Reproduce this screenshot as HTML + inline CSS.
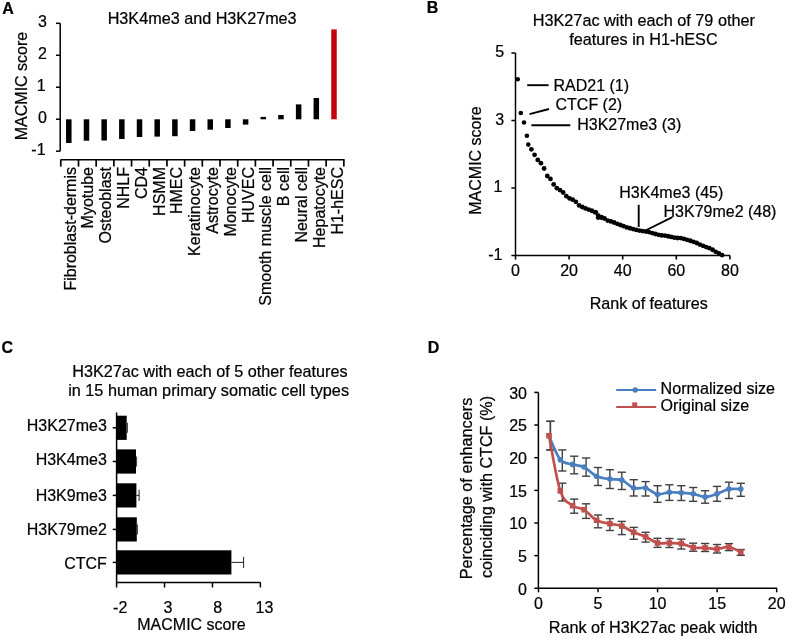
<!DOCTYPE html>
<html><head><meta charset="utf-8"><style>
html,body{margin:0;padding:0;background:#fff;}
svg{display:block;will-change:transform;}
text{font-family:"Liberation Sans",sans-serif;stroke:#000;stroke-width:0.22px;}
</style></head><body>
<svg width="787" height="639" viewBox="0 0 787 639">
<rect width="787" height="639" fill="#fff"/>
<text x="2.30" y="13.50" text-anchor="start" font-size="16" font-weight="bold" fill="#000">A</text>
<text x="202.15" y="23.60" text-anchor="middle" font-size="16.2" font-weight="normal" fill="#000">H3K4me3 and H3K27me3</text>
<line x1="60.20" y1="23.30" x2="60.20" y2="151.20" stroke="#000" stroke-width="1.5"/>
<line x1="56.00" y1="23.30" x2="60.20" y2="23.30" stroke="#000" stroke-width="1.5"/>
<text x="47.00" y="27.00" text-anchor="end" font-size="16" font-weight="normal" fill="#000">3</text>
<line x1="56.00" y1="55.27" x2="60.20" y2="55.27" stroke="#000" stroke-width="1.5"/>
<text x="47.00" y="58.97" text-anchor="end" font-size="16" font-weight="normal" fill="#000">2</text>
<line x1="56.00" y1="87.24" x2="60.20" y2="87.24" stroke="#000" stroke-width="1.5"/>
<text x="45.60" y="90.94" text-anchor="end" font-size="16" font-weight="normal" fill="#000">1</text>
<line x1="56.00" y1="119.21" x2="60.20" y2="119.21" stroke="#000" stroke-width="1.5"/>
<text x="47.00" y="122.91" text-anchor="end" font-size="16" font-weight="normal" fill="#000">0</text>
<line x1="56.00" y1="151.18" x2="60.20" y2="151.18" stroke="#000" stroke-width="1.5"/>
<text x="45.60" y="154.88" text-anchor="end" font-size="16" font-weight="normal" fill="#000">-1</text>
<text x="27.00" y="86.00" text-anchor="middle" font-size="16" font-weight="normal" fill="#000" transform="rotate(-90 27.00 86.00)">MACMIC score</text>
<line x1="60.40" y1="159.80" x2="344.60" y2="159.80" stroke="#000" stroke-width="1.5"/>
<line x1="60.80" y1="159.80" x2="60.80" y2="166.60" stroke="#000" stroke-width="1.7"/>
<line x1="78.49" y1="159.80" x2="78.49" y2="166.60" stroke="#000" stroke-width="1.7"/>
<line x1="96.18" y1="159.80" x2="96.18" y2="166.60" stroke="#000" stroke-width="1.7"/>
<line x1="113.87" y1="159.80" x2="113.87" y2="166.60" stroke="#000" stroke-width="1.7"/>
<line x1="131.56" y1="159.80" x2="131.56" y2="166.60" stroke="#000" stroke-width="1.7"/>
<line x1="149.25" y1="159.80" x2="149.25" y2="166.60" stroke="#000" stroke-width="1.7"/>
<line x1="166.94" y1="159.80" x2="166.94" y2="166.60" stroke="#000" stroke-width="1.7"/>
<line x1="184.63" y1="159.80" x2="184.63" y2="166.60" stroke="#000" stroke-width="1.7"/>
<line x1="202.32" y1="159.80" x2="202.32" y2="166.60" stroke="#000" stroke-width="1.7"/>
<line x1="220.01" y1="159.80" x2="220.01" y2="166.60" stroke="#000" stroke-width="1.7"/>
<line x1="237.70" y1="159.80" x2="237.70" y2="166.60" stroke="#000" stroke-width="1.7"/>
<line x1="255.39" y1="159.80" x2="255.39" y2="166.60" stroke="#000" stroke-width="1.7"/>
<line x1="273.08" y1="159.80" x2="273.08" y2="166.60" stroke="#000" stroke-width="1.7"/>
<line x1="290.77" y1="159.80" x2="290.77" y2="166.60" stroke="#000" stroke-width="1.7"/>
<line x1="308.46" y1="159.80" x2="308.46" y2="166.60" stroke="#000" stroke-width="1.7"/>
<line x1="326.15" y1="159.80" x2="326.15" y2="166.60" stroke="#000" stroke-width="1.7"/>
<line x1="343.84" y1="159.80" x2="343.84" y2="166.60" stroke="#000" stroke-width="1.7"/>
<rect x="66.05" y="119.30" width="5.50" height="23.70" fill="#000"/>
<text x="75.50" y="167.00" text-anchor="end" font-size="16" font-weight="normal" fill="#000" transform="rotate(-90 75.50 167.00)">Fibroblast-dermis</text>
<rect x="83.73" y="119.30" width="5.50" height="21.40" fill="#000"/>
<text x="93.30" y="167.00" text-anchor="end" font-size="16" font-weight="normal" fill="#000" transform="rotate(-90 93.30 167.00)">Myotube</text>
<rect x="101.41" y="119.30" width="5.50" height="21.20" fill="#000"/>
<text x="111.10" y="167.00" text-anchor="end" font-size="16" font-weight="normal" fill="#000" transform="rotate(-90 111.10 167.00)">Osteoblast</text>
<rect x="119.09" y="119.30" width="5.50" height="19.70" fill="#000"/>
<text x="128.90" y="167.00" text-anchor="end" font-size="16" font-weight="normal" fill="#000" transform="rotate(-90 128.90 167.00)">NHLF</text>
<rect x="136.77" y="119.30" width="5.50" height="17.70" fill="#000"/>
<text x="146.70" y="167.00" text-anchor="end" font-size="16" font-weight="normal" fill="#000" transform="rotate(-90 146.70 167.00)">CD4</text>
<rect x="154.45" y="119.30" width="5.50" height="17.30" fill="#000"/>
<text x="164.50" y="167.00" text-anchor="end" font-size="16" font-weight="normal" fill="#000" transform="rotate(-90 164.50 167.00)">HSMM</text>
<rect x="172.13" y="119.30" width="5.50" height="16.90" fill="#000"/>
<text x="182.30" y="167.00" text-anchor="end" font-size="16" font-weight="normal" fill="#000" transform="rotate(-90 182.30 167.00)">HMEC</text>
<rect x="189.81" y="119.30" width="5.50" height="11.70" fill="#000"/>
<text x="200.10" y="167.00" text-anchor="end" font-size="16" font-weight="normal" fill="#000" transform="rotate(-90 200.10 167.00)">Keratinocyte</text>
<rect x="207.49" y="119.30" width="5.50" height="10.40" fill="#000"/>
<text x="217.90" y="167.00" text-anchor="end" font-size="16" font-weight="normal" fill="#000" transform="rotate(-90 217.90 167.00)">Astrocyte</text>
<rect x="225.17" y="119.30" width="5.50" height="8.70" fill="#000"/>
<text x="235.70" y="167.00" text-anchor="end" font-size="16" font-weight="normal" fill="#000" transform="rotate(-90 235.70 167.00)">Monocyte</text>
<rect x="242.85" y="119.30" width="5.50" height="5.30" fill="#000"/>
<text x="253.50" y="167.00" text-anchor="end" font-size="16" font-weight="normal" fill="#000" transform="rotate(-90 253.50 167.00)">HUVEC</text>
<rect x="260.53" y="116.90" width="5.50" height="2.40" fill="#000"/>
<text x="271.30" y="167.00" text-anchor="end" font-size="16" font-weight="normal" fill="#000" transform="rotate(-90 271.30 167.00)">Smooth muscle cell</text>
<rect x="278.21" y="115.00" width="5.50" height="4.30" fill="#000"/>
<text x="289.10" y="167.00" text-anchor="end" font-size="16" font-weight="normal" fill="#000" transform="rotate(-90 289.10 167.00)">B cell</text>
<rect x="295.89" y="104.40" width="5.50" height="14.90" fill="#000"/>
<text x="306.90" y="167.00" text-anchor="end" font-size="16" font-weight="normal" fill="#000" transform="rotate(-90 306.90 167.00)">Neural cell</text>
<rect x="313.57" y="98.00" width="5.50" height="21.30" fill="#000"/>
<text x="324.70" y="167.00" text-anchor="end" font-size="16" font-weight="normal" fill="#000" transform="rotate(-90 324.70 167.00)">Hepatocyte</text>
<rect x="331.25" y="29.40" width="5.50" height="89.90" fill="#c4000c"/>
<text x="342.50" y="167.00" text-anchor="end" font-size="16" font-weight="normal" fill="#000" transform="rotate(-90 342.50 167.00)">H1-hESC</text>
<text x="426.80" y="12.50" text-anchor="start" font-size="16" font-weight="bold" fill="#000">B</text>
<text x="643.85" y="26.20" text-anchor="middle" font-size="16.25" font-weight="normal" fill="#000">H3K27ac with each of 79 other</text>
<text x="643.40" y="45.30" text-anchor="middle" font-size="16.2" font-weight="normal" fill="#000">features in H1-hESC</text>
<line x1="515.50" y1="53.00" x2="515.50" y2="255.50" stroke="#000" stroke-width="1.5"/>
<line x1="511.40" y1="53.00" x2="515.50" y2="53.00" stroke="#000" stroke-width="1.5"/>
<text x="504.20" y="57.00" text-anchor="end" font-size="16" font-weight="normal" fill="#000">5</text>
<line x1="511.40" y1="120.50" x2="515.50" y2="120.50" stroke="#000" stroke-width="1.5"/>
<text x="504.20" y="124.50" text-anchor="end" font-size="16" font-weight="normal" fill="#000">3</text>
<line x1="511.40" y1="188.00" x2="515.50" y2="188.00" stroke="#000" stroke-width="1.5"/>
<text x="502.50" y="192.00" text-anchor="end" font-size="16" font-weight="normal" fill="#000">1</text>
<line x1="511.40" y1="255.50" x2="515.50" y2="255.50" stroke="#000" stroke-width="1.5"/>
<text x="502.50" y="259.50" text-anchor="end" font-size="16" font-weight="normal" fill="#000">-1</text>
<text x="481.30" y="160.50" text-anchor="middle" font-size="16" font-weight="normal" fill="#000" transform="rotate(-90 481.30 160.50)">MACMIC score</text>
<line x1="515.50" y1="255.50" x2="730.00" y2="255.50" stroke="#000" stroke-width="1.5"/>
<line x1="515.50" y1="255.50" x2="515.50" y2="259.50" stroke="#000" stroke-width="1.6"/>
<text x="515.50" y="276.00" text-anchor="middle" font-size="16" font-weight="normal" fill="#000">0</text>
<line x1="569.10" y1="255.50" x2="569.10" y2="259.50" stroke="#000" stroke-width="1.6"/>
<text x="569.10" y="276.00" text-anchor="middle" font-size="16" font-weight="normal" fill="#000">20</text>
<line x1="622.70" y1="255.50" x2="622.70" y2="259.50" stroke="#000" stroke-width="1.6"/>
<text x="622.70" y="276.00" text-anchor="middle" font-size="16" font-weight="normal" fill="#000">40</text>
<line x1="676.30" y1="255.50" x2="676.30" y2="259.50" stroke="#000" stroke-width="1.6"/>
<text x="676.30" y="276.00" text-anchor="middle" font-size="16" font-weight="normal" fill="#000">60</text>
<line x1="729.90" y1="255.50" x2="729.90" y2="259.50" stroke="#000" stroke-width="1.6"/>
<text x="729.90" y="276.00" text-anchor="middle" font-size="16" font-weight="normal" fill="#000">80</text>
<text x="648.70" y="309.00" text-anchor="middle" font-size="16.1" font-weight="normal" fill="#000">Rank of features</text>
<circle cx="517.70" cy="79.30" r="2.30" fill="#000"/>
<circle cx="520.80" cy="113.00" r="2.30" fill="#000"/>
<circle cx="524.00" cy="122.50" r="2.30" fill="#000"/>
<circle cx="526.90" cy="135.80" r="2.30" fill="#000"/>
<circle cx="528.30" cy="144.60" r="2.30" fill="#000"/>
<circle cx="531.40" cy="149.30" r="2.40" fill="#000"/>
<circle cx="534.58" cy="154.86" r="2.40" fill="#000"/>
<circle cx="537.76" cy="159.96" r="2.40" fill="#000"/>
<circle cx="540.93" cy="163.13" r="2.40" fill="#000"/>
<circle cx="544.11" cy="168.50" r="2.40" fill="#000"/>
<circle cx="547.29" cy="175.98" r="2.40" fill="#000"/>
<circle cx="550.47" cy="178.97" r="2.40" fill="#000"/>
<circle cx="553.65" cy="184.40" r="2.40" fill="#000"/>
<circle cx="556.83" cy="188.13" r="2.40" fill="#000"/>
<circle cx="560.00" cy="190.08" r="2.40" fill="#000"/>
<circle cx="563.18" cy="192.52" r="2.40" fill="#000"/>
<circle cx="566.36" cy="196.21" r="2.40" fill="#000"/>
<circle cx="569.54" cy="198.41" r="2.40" fill="#000"/>
<circle cx="572.72" cy="199.69" r="2.40" fill="#000"/>
<circle cx="575.90" cy="201.81" r="2.40" fill="#000"/>
<circle cx="579.08" cy="205.44" r="2.40" fill="#000"/>
<circle cx="582.25" cy="206.98" r="2.40" fill="#000"/>
<circle cx="585.43" cy="208.43" r="2.40" fill="#000"/>
<circle cx="588.61" cy="209.60" r="2.40" fill="#000"/>
<circle cx="591.79" cy="210.74" r="2.40" fill="#000"/>
<circle cx="594.97" cy="212.20" r="2.40" fill="#000"/>
<circle cx="598.14" cy="217.50" r="2.40" fill="#000"/>
<circle cx="601.32" cy="217.50" r="2.40" fill="#000"/>
<circle cx="604.50" cy="218.49" r="2.40" fill="#000"/>
<circle cx="607.68" cy="220.57" r="2.40" fill="#000"/>
<circle cx="610.86" cy="221.38" r="2.40" fill="#000"/>
<circle cx="614.04" cy="222.50" r="2.40" fill="#000"/>
<circle cx="617.22" cy="223.81" r="2.40" fill="#000"/>
<circle cx="620.39" cy="224.99" r="2.40" fill="#000"/>
<circle cx="623.57" cy="226.18" r="2.40" fill="#000"/>
<circle cx="626.75" cy="227.39" r="2.40" fill="#000"/>
<circle cx="629.93" cy="228.27" r="2.40" fill="#000"/>
<circle cx="633.11" cy="229.08" r="2.40" fill="#000"/>
<circle cx="636.28" cy="229.89" r="2.40" fill="#000"/>
<circle cx="639.46" cy="230.55" r="2.40" fill="#000"/>
<circle cx="642.64" cy="231.11" r="2.40" fill="#000"/>
<circle cx="645.82" cy="231.60" r="2.40" fill="#000"/>
<circle cx="649.00" cy="232.10" r="2.40" fill="#000"/>
<circle cx="652.18" cy="233.06" r="2.40" fill="#000"/>
<circle cx="655.36" cy="234.01" r="2.40" fill="#000"/>
<circle cx="658.53" cy="234.84" r="2.40" fill="#000"/>
<circle cx="661.71" cy="235.38" r="2.40" fill="#000"/>
<circle cx="664.89" cy="235.57" r="2.40" fill="#000"/>
<circle cx="668.07" cy="236.23" r="2.40" fill="#000"/>
<circle cx="671.25" cy="236.96" r="2.40" fill="#000"/>
<circle cx="674.42" cy="237.65" r="2.40" fill="#000"/>
<circle cx="677.60" cy="237.98" r="2.40" fill="#000"/>
<circle cx="680.78" cy="238.12" r="2.40" fill="#000"/>
<circle cx="683.96" cy="238.95" r="2.40" fill="#000"/>
<circle cx="687.14" cy="239.82" r="2.40" fill="#000"/>
<circle cx="690.32" cy="240.76" r="2.40" fill="#000"/>
<circle cx="693.50" cy="241.80" r="2.40" fill="#000"/>
<circle cx="696.67" cy="242.98" r="2.40" fill="#000"/>
<circle cx="699.85" cy="244.54" r="2.40" fill="#000"/>
<circle cx="703.03" cy="245.86" r="2.40" fill="#000"/>
<circle cx="706.21" cy="247.04" r="2.40" fill="#000"/>
<circle cx="709.39" cy="248.22" r="2.40" fill="#000"/>
<circle cx="712.57" cy="249.77" r="2.40" fill="#000"/>
<circle cx="715.74" cy="251.81" r="2.40" fill="#000"/>
<circle cx="718.92" cy="253.48" r="2.40" fill="#000"/>
<circle cx="722.10" cy="255.10" r="2.40" fill="#000"/>
<circle cx="595.90" cy="212.30" r="2.40" fill="#000"/>
<circle cx="598.30" cy="215.60" r="2.40" fill="#000"/>
<circle cx="601.50" cy="217.20" r="2.40" fill="#000"/>
<line x1="527.20" y1="85.20" x2="548.60" y2="85.20" stroke="#000" stroke-width="1.9"/>
<text x="553.50" y="90.60" text-anchor="start" font-size="16" font-weight="normal" fill="#000">RAD21 (1)</text>
<line x1="529.50" y1="114.20" x2="549.00" y2="109.00" stroke="#000" stroke-width="1.9"/>
<text x="555.50" y="110.30" text-anchor="start" font-size="16" font-weight="normal" fill="#000">CTCF (2)</text>
<line x1="531.40" y1="125.30" x2="570.30" y2="125.30" stroke="#000" stroke-width="1.9"/>
<text x="577.20" y="129.90" text-anchor="start" font-size="16" font-weight="normal" fill="#000">H3K27me3 (3)</text>
<line x1="638.70" y1="204.80" x2="638.70" y2="227.00" stroke="#000" stroke-width="1.9"/>
<text x="619.30" y="198.20" text-anchor="start" font-size="16" font-weight="normal" fill="#000">H3K4me3 (45)</text>
<line x1="645.50" y1="230.50" x2="672.40" y2="217.20" stroke="#000" stroke-width="1.9"/>
<text x="663.50" y="217.10" text-anchor="start" font-size="16" font-weight="normal" fill="#000">H3K79me2 (48)</text>
<text x="1.60" y="353.00" text-anchor="start" font-size="16" font-weight="bold" fill="#000">C</text>
<text x="209.90" y="376.60" text-anchor="middle" font-size="16.22" font-weight="normal" fill="#000">H3K27ac with each of 5 other features</text>
<text x="208.60" y="395.70" text-anchor="middle" font-size="16.25" font-weight="normal" fill="#000">in 15 human primary somatic cell types</text>
<line x1="116.60" y1="412.50" x2="116.60" y2="582.40" stroke="#000" stroke-width="1.5"/>
<rect x="116.60" y="415.70" width="10.10" height="24.20" fill="#000"/>
<line x1="112.70" y1="427.80" x2="116.60" y2="427.80" stroke="#000" stroke-width="1.5"/>
<text x="106.80" y="430.90" text-anchor="end" font-size="16" font-weight="normal" fill="#000">H3K27me3</text>
<line x1="127.40" y1="422.80" x2="127.40" y2="432.80" stroke="#333" stroke-width="1.0"/>
<rect x="116.60" y="449.40" width="19.40" height="24.20" fill="#000"/>
<line x1="112.70" y1="461.50" x2="116.60" y2="461.50" stroke="#000" stroke-width="1.5"/>
<text x="106.80" y="465.30" text-anchor="end" font-size="16" font-weight="normal" fill="#000">H3K4me3</text>
<line x1="136.60" y1="456.50" x2="136.60" y2="466.50" stroke="#333" stroke-width="1.0"/>
<rect x="116.60" y="483.30" width="19.80" height="24.20" fill="#000"/>
<line x1="112.70" y1="495.40" x2="116.60" y2="495.40" stroke="#000" stroke-width="1.5"/>
<text x="106.80" y="500.90" text-anchor="end" font-size="16" font-weight="normal" fill="#000">H3K9me3</text>
<line x1="136.40" y1="495.40" x2="139.10" y2="495.40" stroke="#222" stroke-width="1.0"/>
<line x1="139.10" y1="489.80" x2="139.10" y2="501.00" stroke="#222" stroke-width="1.0"/>
<rect x="116.60" y="517.30" width="20.20" height="24.20" fill="#000"/>
<line x1="112.70" y1="529.40" x2="116.60" y2="529.40" stroke="#000" stroke-width="1.5"/>
<text x="106.80" y="534.80" text-anchor="end" font-size="16" font-weight="normal" fill="#000">H3K79me2</text>
<line x1="137.40" y1="524.40" x2="137.40" y2="534.40" stroke="#333" stroke-width="1.0"/>
<rect x="116.60" y="550.30" width="114.80" height="24.20" fill="#000"/>
<line x1="112.70" y1="562.40" x2="116.60" y2="562.40" stroke="#000" stroke-width="1.5"/>
<text x="106.80" y="568.90" text-anchor="end" font-size="16" font-weight="normal" fill="#000">CTCF</text>
<line x1="231.40" y1="562.40" x2="243.60" y2="562.40" stroke="#222" stroke-width="1.0"/>
<line x1="243.60" y1="556.80" x2="243.60" y2="568.00" stroke="#222" stroke-width="1.0"/>
<line x1="116.60" y1="582.40" x2="260.40" y2="582.40" stroke="#000" stroke-width="1.5"/>
<line x1="116.60" y1="582.40" x2="116.60" y2="587.50" stroke="#000" stroke-width="1.5"/>
<text x="120.20" y="613.20" text-anchor="middle" font-size="16" font-weight="normal" fill="#000">-2</text>
<line x1="164.53" y1="582.40" x2="164.53" y2="587.50" stroke="#000" stroke-width="1.5"/>
<text x="167.93" y="613.20" text-anchor="middle" font-size="16" font-weight="normal" fill="#000">3</text>
<line x1="212.46" y1="582.40" x2="212.46" y2="587.50" stroke="#000" stroke-width="1.5"/>
<text x="217.66" y="613.20" text-anchor="middle" font-size="16" font-weight="normal" fill="#000">8</text>
<line x1="260.39" y1="582.40" x2="260.39" y2="587.50" stroke="#000" stroke-width="1.5"/>
<text x="264.39" y="613.20" text-anchor="middle" font-size="16" font-weight="normal" fill="#000">13</text>
<text x="191.50" y="630.30" text-anchor="middle" font-size="16" font-weight="normal" fill="#000">MACMIC score</text>
<text x="427.80" y="353.20" text-anchor="start" font-size="16" font-weight="bold" fill="#000">D</text>
<line x1="538.40" y1="392.40" x2="538.40" y2="588.30" stroke="#000" stroke-width="1.5"/>
<line x1="534.30" y1="588.30" x2="538.40" y2="588.30" stroke="#000" stroke-width="1.5"/>
<text x="527.00" y="594.60" text-anchor="end" font-size="16" font-weight="normal" fill="#000">0</text>
<line x1="534.30" y1="555.65" x2="538.40" y2="555.65" stroke="#000" stroke-width="1.5"/>
<text x="527.00" y="561.95" text-anchor="end" font-size="16" font-weight="normal" fill="#000">5</text>
<line x1="534.30" y1="523.00" x2="538.40" y2="523.00" stroke="#000" stroke-width="1.5"/>
<text x="527.00" y="529.30" text-anchor="end" font-size="16" font-weight="normal" fill="#000">10</text>
<line x1="534.30" y1="490.35" x2="538.40" y2="490.35" stroke="#000" stroke-width="1.5"/>
<text x="527.00" y="496.65" text-anchor="end" font-size="16" font-weight="normal" fill="#000">15</text>
<line x1="534.30" y1="457.70" x2="538.40" y2="457.70" stroke="#000" stroke-width="1.5"/>
<text x="527.00" y="464.00" text-anchor="end" font-size="16" font-weight="normal" fill="#000">20</text>
<line x1="534.30" y1="425.05" x2="538.40" y2="425.05" stroke="#000" stroke-width="1.5"/>
<text x="527.00" y="431.35" text-anchor="end" font-size="16" font-weight="normal" fill="#000">25</text>
<line x1="534.30" y1="392.40" x2="538.40" y2="392.40" stroke="#000" stroke-width="1.5"/>
<text x="527.00" y="398.70" text-anchor="end" font-size="16" font-weight="normal" fill="#000">30</text>
<text x="472.00" y="488.50" text-anchor="middle" font-size="16.25" font-weight="normal" fill="#000" transform="rotate(-90 472.00 488.50)">Percentage of enhancers</text>
<text x="491.60" y="487.00" text-anchor="middle" font-size="16.15" font-weight="normal" fill="#000" transform="rotate(-90 491.60 487.00)">coinciding with CTCF (%)</text>
<line x1="538.40" y1="588.30" x2="777.00" y2="588.30" stroke="#000" stroke-width="1.5"/>
<line x1="538.50" y1="588.30" x2="538.50" y2="592.30" stroke="#000" stroke-width="1.5"/>
<text x="538.50" y="608.80" text-anchor="middle" font-size="16" font-weight="normal" fill="#000">0</text>
<line x1="598.05" y1="588.30" x2="598.05" y2="592.30" stroke="#000" stroke-width="1.5"/>
<text x="598.05" y="608.80" text-anchor="middle" font-size="16" font-weight="normal" fill="#000">5</text>
<line x1="657.60" y1="588.30" x2="657.60" y2="592.30" stroke="#000" stroke-width="1.5"/>
<text x="657.60" y="608.80" text-anchor="middle" font-size="16" font-weight="normal" fill="#000">10</text>
<line x1="717.15" y1="588.30" x2="717.15" y2="592.30" stroke="#000" stroke-width="1.5"/>
<text x="717.15" y="608.80" text-anchor="middle" font-size="16" font-weight="normal" fill="#000">15</text>
<line x1="776.70" y1="588.30" x2="776.70" y2="592.30" stroke="#000" stroke-width="1.5"/>
<text x="776.70" y="608.80" text-anchor="middle" font-size="16" font-weight="normal" fill="#000">20</text>
<text x="653.20" y="632.60" text-anchor="middle" font-size="16.2" font-weight="normal" fill="#000">Rank of H3K27ac peak width</text>
<line x1="550.40" y1="421.30" x2="550.40" y2="449.90" stroke="#404040" stroke-width="1.4"/>
<line x1="546.30" y1="421.30" x2="554.50" y2="421.30" stroke="#404040" stroke-width="1.4"/>
<line x1="546.30" y1="449.90" x2="554.50" y2="449.90" stroke="#404040" stroke-width="1.4"/>
<line x1="562.30" y1="449.90" x2="562.30" y2="471.00" stroke="#404040" stroke-width="1.4"/>
<line x1="558.20" y1="449.90" x2="566.40" y2="449.90" stroke="#404040" stroke-width="1.4"/>
<line x1="558.20" y1="471.00" x2="566.40" y2="471.00" stroke="#404040" stroke-width="1.4"/>
<line x1="574.20" y1="456.20" x2="574.20" y2="473.80" stroke="#404040" stroke-width="1.4"/>
<line x1="570.10" y1="456.20" x2="578.30" y2="456.20" stroke="#404040" stroke-width="1.4"/>
<line x1="570.10" y1="473.80" x2="578.30" y2="473.80" stroke="#404040" stroke-width="1.4"/>
<line x1="586.10" y1="458.00" x2="586.10" y2="476.20" stroke="#404040" stroke-width="1.4"/>
<line x1="582.00" y1="458.00" x2="590.20" y2="458.00" stroke="#404040" stroke-width="1.4"/>
<line x1="582.00" y1="476.20" x2="590.20" y2="476.20" stroke="#404040" stroke-width="1.4"/>
<line x1="598.00" y1="467.50" x2="598.00" y2="485.50" stroke="#404040" stroke-width="1.4"/>
<line x1="593.90" y1="467.50" x2="602.10" y2="467.50" stroke="#404040" stroke-width="1.4"/>
<line x1="593.90" y1="485.50" x2="602.10" y2="485.50" stroke="#404040" stroke-width="1.4"/>
<line x1="609.90" y1="469.70" x2="609.90" y2="488.50" stroke="#404040" stroke-width="1.4"/>
<line x1="605.80" y1="469.70" x2="614.00" y2="469.70" stroke="#404040" stroke-width="1.4"/>
<line x1="605.80" y1="488.50" x2="614.00" y2="488.50" stroke="#404040" stroke-width="1.4"/>
<line x1="621.80" y1="472.20" x2="621.80" y2="489.50" stroke="#404040" stroke-width="1.4"/>
<line x1="617.70" y1="472.20" x2="625.90" y2="472.20" stroke="#404040" stroke-width="1.4"/>
<line x1="617.70" y1="489.50" x2="625.90" y2="489.50" stroke="#404040" stroke-width="1.4"/>
<line x1="633.70" y1="479.70" x2="633.70" y2="496.00" stroke="#404040" stroke-width="1.4"/>
<line x1="629.60" y1="479.70" x2="637.80" y2="479.70" stroke="#404040" stroke-width="1.4"/>
<line x1="629.60" y1="496.00" x2="637.80" y2="496.00" stroke="#404040" stroke-width="1.4"/>
<line x1="645.60" y1="481.60" x2="645.60" y2="496.00" stroke="#404040" stroke-width="1.4"/>
<line x1="641.50" y1="481.60" x2="649.70" y2="481.60" stroke="#404040" stroke-width="1.4"/>
<line x1="641.50" y1="496.00" x2="649.70" y2="496.00" stroke="#404040" stroke-width="1.4"/>
<line x1="657.50" y1="485.70" x2="657.50" y2="502.30" stroke="#404040" stroke-width="1.4"/>
<line x1="653.40" y1="485.70" x2="661.60" y2="485.70" stroke="#404040" stroke-width="1.4"/>
<line x1="653.40" y1="502.30" x2="661.60" y2="502.30" stroke="#404040" stroke-width="1.4"/>
<line x1="669.40" y1="484.80" x2="669.40" y2="500.40" stroke="#404040" stroke-width="1.4"/>
<line x1="665.30" y1="484.80" x2="673.50" y2="484.80" stroke="#404040" stroke-width="1.4"/>
<line x1="665.30" y1="500.40" x2="673.50" y2="500.40" stroke="#404040" stroke-width="1.4"/>
<line x1="681.30" y1="485.70" x2="681.30" y2="500.50" stroke="#404040" stroke-width="1.4"/>
<line x1="677.20" y1="485.70" x2="685.40" y2="485.70" stroke="#404040" stroke-width="1.4"/>
<line x1="677.20" y1="500.50" x2="685.40" y2="500.50" stroke="#404040" stroke-width="1.4"/>
<line x1="693.20" y1="487.50" x2="693.20" y2="501.30" stroke="#404040" stroke-width="1.4"/>
<line x1="689.10" y1="487.50" x2="697.30" y2="487.50" stroke="#404040" stroke-width="1.4"/>
<line x1="689.10" y1="501.30" x2="697.30" y2="501.30" stroke="#404040" stroke-width="1.4"/>
<line x1="705.10" y1="490.70" x2="705.10" y2="503.20" stroke="#404040" stroke-width="1.4"/>
<line x1="701.00" y1="490.70" x2="709.20" y2="490.70" stroke="#404040" stroke-width="1.4"/>
<line x1="701.00" y1="503.20" x2="709.20" y2="503.20" stroke="#404040" stroke-width="1.4"/>
<line x1="717.00" y1="486.40" x2="717.00" y2="501.30" stroke="#404040" stroke-width="1.4"/>
<line x1="712.90" y1="486.40" x2="721.10" y2="486.40" stroke="#404040" stroke-width="1.4"/>
<line x1="712.90" y1="501.30" x2="721.10" y2="501.30" stroke="#404040" stroke-width="1.4"/>
<line x1="728.90" y1="482.20" x2="728.90" y2="498.50" stroke="#404040" stroke-width="1.4"/>
<line x1="724.80" y1="482.20" x2="733.00" y2="482.20" stroke="#404040" stroke-width="1.4"/>
<line x1="724.80" y1="498.50" x2="733.00" y2="498.50" stroke="#404040" stroke-width="1.4"/>
<line x1="740.80" y1="483.30" x2="740.80" y2="496.30" stroke="#404040" stroke-width="1.4"/>
<line x1="736.70" y1="483.30" x2="744.90" y2="483.30" stroke="#404040" stroke-width="1.4"/>
<line x1="736.70" y1="496.30" x2="744.90" y2="496.30" stroke="#404040" stroke-width="1.4"/>
<line x1="550.40" y1="421.30" x2="550.40" y2="449.90" stroke="#404040" stroke-width="1.4"/>
<line x1="546.30" y1="421.30" x2="554.50" y2="421.30" stroke="#404040" stroke-width="1.4"/>
<line x1="546.30" y1="449.90" x2="554.50" y2="449.90" stroke="#404040" stroke-width="1.4"/>
<line x1="562.30" y1="483.20" x2="562.30" y2="501.00" stroke="#404040" stroke-width="1.4"/>
<line x1="558.20" y1="483.20" x2="566.40" y2="483.20" stroke="#404040" stroke-width="1.4"/>
<line x1="558.20" y1="501.00" x2="566.40" y2="501.00" stroke="#404040" stroke-width="1.4"/>
<line x1="574.20" y1="499.10" x2="574.20" y2="513.20" stroke="#404040" stroke-width="1.4"/>
<line x1="570.10" y1="499.10" x2="578.30" y2="499.10" stroke="#404040" stroke-width="1.4"/>
<line x1="570.10" y1="513.20" x2="578.30" y2="513.20" stroke="#404040" stroke-width="1.4"/>
<line x1="586.10" y1="503.80" x2="586.10" y2="518.40" stroke="#404040" stroke-width="1.4"/>
<line x1="582.00" y1="503.80" x2="590.20" y2="503.80" stroke="#404040" stroke-width="1.4"/>
<line x1="582.00" y1="518.40" x2="590.20" y2="518.40" stroke="#404040" stroke-width="1.4"/>
<line x1="598.00" y1="515.00" x2="598.00" y2="527.80" stroke="#404040" stroke-width="1.4"/>
<line x1="593.90" y1="515.00" x2="602.10" y2="515.00" stroke="#404040" stroke-width="1.4"/>
<line x1="593.90" y1="527.80" x2="602.10" y2="527.80" stroke="#404040" stroke-width="1.4"/>
<line x1="609.90" y1="518.60" x2="609.90" y2="530.50" stroke="#404040" stroke-width="1.4"/>
<line x1="605.80" y1="518.60" x2="614.00" y2="518.60" stroke="#404040" stroke-width="1.4"/>
<line x1="605.80" y1="530.50" x2="614.00" y2="530.50" stroke="#404040" stroke-width="1.4"/>
<line x1="621.80" y1="521.40" x2="621.80" y2="534.60" stroke="#404040" stroke-width="1.4"/>
<line x1="617.70" y1="521.40" x2="625.90" y2="521.40" stroke="#404040" stroke-width="1.4"/>
<line x1="617.70" y1="534.60" x2="625.90" y2="534.60" stroke="#404040" stroke-width="1.4"/>
<line x1="633.70" y1="527.40" x2="633.70" y2="539.30" stroke="#404040" stroke-width="1.4"/>
<line x1="629.60" y1="527.40" x2="637.80" y2="527.40" stroke="#404040" stroke-width="1.4"/>
<line x1="629.60" y1="539.30" x2="637.80" y2="539.30" stroke="#404040" stroke-width="1.4"/>
<line x1="645.60" y1="532.30" x2="645.60" y2="542.10" stroke="#404040" stroke-width="1.4"/>
<line x1="641.50" y1="532.30" x2="649.70" y2="532.30" stroke="#404040" stroke-width="1.4"/>
<line x1="641.50" y1="542.10" x2="649.70" y2="542.10" stroke="#404040" stroke-width="1.4"/>
<line x1="657.50" y1="538.30" x2="657.50" y2="547.40" stroke="#404040" stroke-width="1.4"/>
<line x1="653.40" y1="538.30" x2="661.60" y2="538.30" stroke="#404040" stroke-width="1.4"/>
<line x1="653.40" y1="547.40" x2="661.60" y2="547.40" stroke="#404040" stroke-width="1.4"/>
<line x1="669.40" y1="538.50" x2="669.40" y2="547.50" stroke="#404040" stroke-width="1.4"/>
<line x1="665.30" y1="538.50" x2="673.50" y2="538.50" stroke="#404040" stroke-width="1.4"/>
<line x1="665.30" y1="547.50" x2="673.50" y2="547.50" stroke="#404040" stroke-width="1.4"/>
<line x1="681.30" y1="539.20" x2="681.30" y2="549.00" stroke="#404040" stroke-width="1.4"/>
<line x1="677.20" y1="539.20" x2="685.40" y2="539.20" stroke="#404040" stroke-width="1.4"/>
<line x1="677.20" y1="549.00" x2="685.40" y2="549.00" stroke="#404040" stroke-width="1.4"/>
<line x1="693.20" y1="543.20" x2="693.20" y2="551.20" stroke="#404040" stroke-width="1.4"/>
<line x1="689.10" y1="543.20" x2="697.30" y2="543.20" stroke="#404040" stroke-width="1.4"/>
<line x1="689.10" y1="551.20" x2="697.30" y2="551.20" stroke="#404040" stroke-width="1.4"/>
<line x1="705.10" y1="543.50" x2="705.10" y2="551.50" stroke="#404040" stroke-width="1.4"/>
<line x1="701.00" y1="543.50" x2="709.20" y2="543.50" stroke="#404040" stroke-width="1.4"/>
<line x1="701.00" y1="551.50" x2="709.20" y2="551.50" stroke="#404040" stroke-width="1.4"/>
<line x1="717.00" y1="544.50" x2="717.00" y2="553.00" stroke="#404040" stroke-width="1.4"/>
<line x1="712.90" y1="544.50" x2="721.10" y2="544.50" stroke="#404040" stroke-width="1.4"/>
<line x1="712.90" y1="553.00" x2="721.10" y2="553.00" stroke="#404040" stroke-width="1.4"/>
<line x1="728.90" y1="543.60" x2="728.90" y2="550.60" stroke="#404040" stroke-width="1.4"/>
<line x1="724.80" y1="543.60" x2="733.00" y2="543.60" stroke="#404040" stroke-width="1.4"/>
<line x1="724.80" y1="550.60" x2="733.00" y2="550.60" stroke="#404040" stroke-width="1.4"/>
<line x1="740.80" y1="549.50" x2="740.80" y2="555.30" stroke="#404040" stroke-width="1.4"/>
<line x1="736.70" y1="549.50" x2="744.90" y2="549.50" stroke="#404040" stroke-width="1.4"/>
<line x1="736.70" y1="555.30" x2="744.90" y2="555.30" stroke="#404040" stroke-width="1.4"/>
<path fill="none" stroke="#4a7ec0" stroke-width="2.7" d="M549.00,436.00 C550.88,439.95 556.37,454.97 560.30,459.70 C564.23,464.43 568.63,463.18 572.60,464.40 C576.57,465.62 580.10,465.03 584.10,467.00 C588.10,468.97 592.30,474.18 596.60,476.20 C600.90,478.22 605.70,478.45 609.90,479.10 C614.10,479.75 617.83,478.62 621.80,480.10 C625.77,481.58 629.73,486.68 633.70,488.00 C637.67,489.32 641.63,486.97 645.60,488.00 C649.57,489.03 653.53,493.48 657.50,494.20 C661.47,494.92 665.43,492.55 669.40,492.30 C673.37,492.05 677.33,492.45 681.30,492.70 C685.27,492.95 689.23,493.10 693.20,493.80 C697.17,494.50 701.13,496.90 705.10,496.90 C709.07,496.90 713.03,495.10 717.00,493.80 C720.97,492.50 724.93,489.88 728.90,489.10 C732.87,488.32 738.82,489.10 740.80,489.10"/>
<circle cx="560.30" cy="459.70" r="2.80" fill="#4a7ec0"/>
<circle cx="572.60" cy="464.40" r="2.80" fill="#4a7ec0"/>
<circle cx="584.10" cy="467.00" r="2.80" fill="#4a7ec0"/>
<circle cx="596.60" cy="476.20" r="2.80" fill="#4a7ec0"/>
<circle cx="609.90" cy="479.10" r="2.80" fill="#4a7ec0"/>
<circle cx="621.80" cy="480.10" r="2.80" fill="#4a7ec0"/>
<circle cx="633.70" cy="488.00" r="2.80" fill="#4a7ec0"/>
<circle cx="645.60" cy="488.00" r="2.80" fill="#4a7ec0"/>
<circle cx="657.50" cy="494.20" r="2.80" fill="#4a7ec0"/>
<circle cx="669.40" cy="492.30" r="2.80" fill="#4a7ec0"/>
<circle cx="681.30" cy="492.70" r="2.80" fill="#4a7ec0"/>
<circle cx="693.20" cy="493.80" r="2.80" fill="#4a7ec0"/>
<circle cx="705.10" cy="496.90" r="2.80" fill="#4a7ec0"/>
<circle cx="717.00" cy="493.80" r="2.80" fill="#4a7ec0"/>
<circle cx="728.90" cy="489.10" r="2.80" fill="#4a7ec0"/>
<circle cx="740.80" cy="489.10" r="2.80" fill="#4a7ec0"/>
<path fill="none" stroke="#c0504d" stroke-width="2.7" d="M549.00,435.80 C550.88,444.98 556.37,479.25 560.30,490.90 C564.23,502.55 568.63,502.57 572.60,505.70 C576.57,508.83 580.10,507.27 584.10,509.70 C588.10,512.13 592.30,517.97 596.60,520.30 C600.90,522.63 605.70,522.73 609.90,523.70 C614.10,524.67 617.83,524.67 621.80,526.10 C625.77,527.53 629.73,530.52 633.70,532.30 C637.67,534.08 641.63,535.02 645.60,536.80 C649.57,538.58 653.53,541.97 657.50,543.00 C661.47,544.03 665.43,542.90 669.40,543.00 C673.37,543.10 677.33,542.85 681.30,543.60 C685.27,544.35 689.23,546.80 693.20,547.50 C697.17,548.20 701.13,547.55 705.10,547.80 C709.07,548.05 713.03,549.13 717.00,549.00 C720.97,548.87 724.93,546.47 728.90,547.00 C732.87,547.53 738.82,551.33 740.80,552.20"/>
<rect x="546.20" y="433.00" width="5.60" height="5.60" fill="#c0504d"/>
<rect x="557.50" y="488.10" width="5.60" height="5.60" fill="#c0504d"/>
<rect x="569.80" y="502.90" width="5.60" height="5.60" fill="#c0504d"/>
<rect x="581.30" y="506.90" width="5.60" height="5.60" fill="#c0504d"/>
<rect x="593.80" y="517.50" width="5.60" height="5.60" fill="#c0504d"/>
<rect x="607.10" y="520.90" width="5.60" height="5.60" fill="#c0504d"/>
<rect x="619.00" y="523.30" width="5.60" height="5.60" fill="#c0504d"/>
<rect x="630.90" y="529.50" width="5.60" height="5.60" fill="#c0504d"/>
<rect x="642.80" y="534.00" width="5.60" height="5.60" fill="#c0504d"/>
<rect x="654.70" y="540.20" width="5.60" height="5.60" fill="#c0504d"/>
<rect x="666.60" y="540.20" width="5.60" height="5.60" fill="#c0504d"/>
<rect x="678.50" y="540.80" width="5.60" height="5.60" fill="#c0504d"/>
<rect x="690.40" y="544.70" width="5.60" height="5.60" fill="#c0504d"/>
<rect x="702.30" y="545.00" width="5.60" height="5.60" fill="#c0504d"/>
<rect x="714.20" y="546.20" width="5.60" height="5.60" fill="#c0504d"/>
<rect x="726.10" y="544.20" width="5.60" height="5.60" fill="#c0504d"/>
<rect x="738.00" y="549.40" width="5.60" height="5.60" fill="#c0504d"/>
<line x1="616.20" y1="390.00" x2="656.20" y2="390.00" stroke="#4a7ec0" stroke-width="2.0"/>
<circle cx="635.20" cy="390.00" r="2.70" fill="#4a7ec0"/>
<text x="660.60" y="393.60" text-anchor="start" font-size="16.1" font-weight="normal" fill="#000">Normalized size</text>
<line x1="616.20" y1="407.00" x2="656.20" y2="407.00" stroke="#c0504d" stroke-width="2.0"/>
<rect x="632.20" y="402.40" width="5.00" height="5.00" fill="#c0504d"/>
<text x="660.60" y="411.00" text-anchor="start" font-size="16.1" font-weight="normal" fill="#000">Original size</text>
</svg></body></html>
